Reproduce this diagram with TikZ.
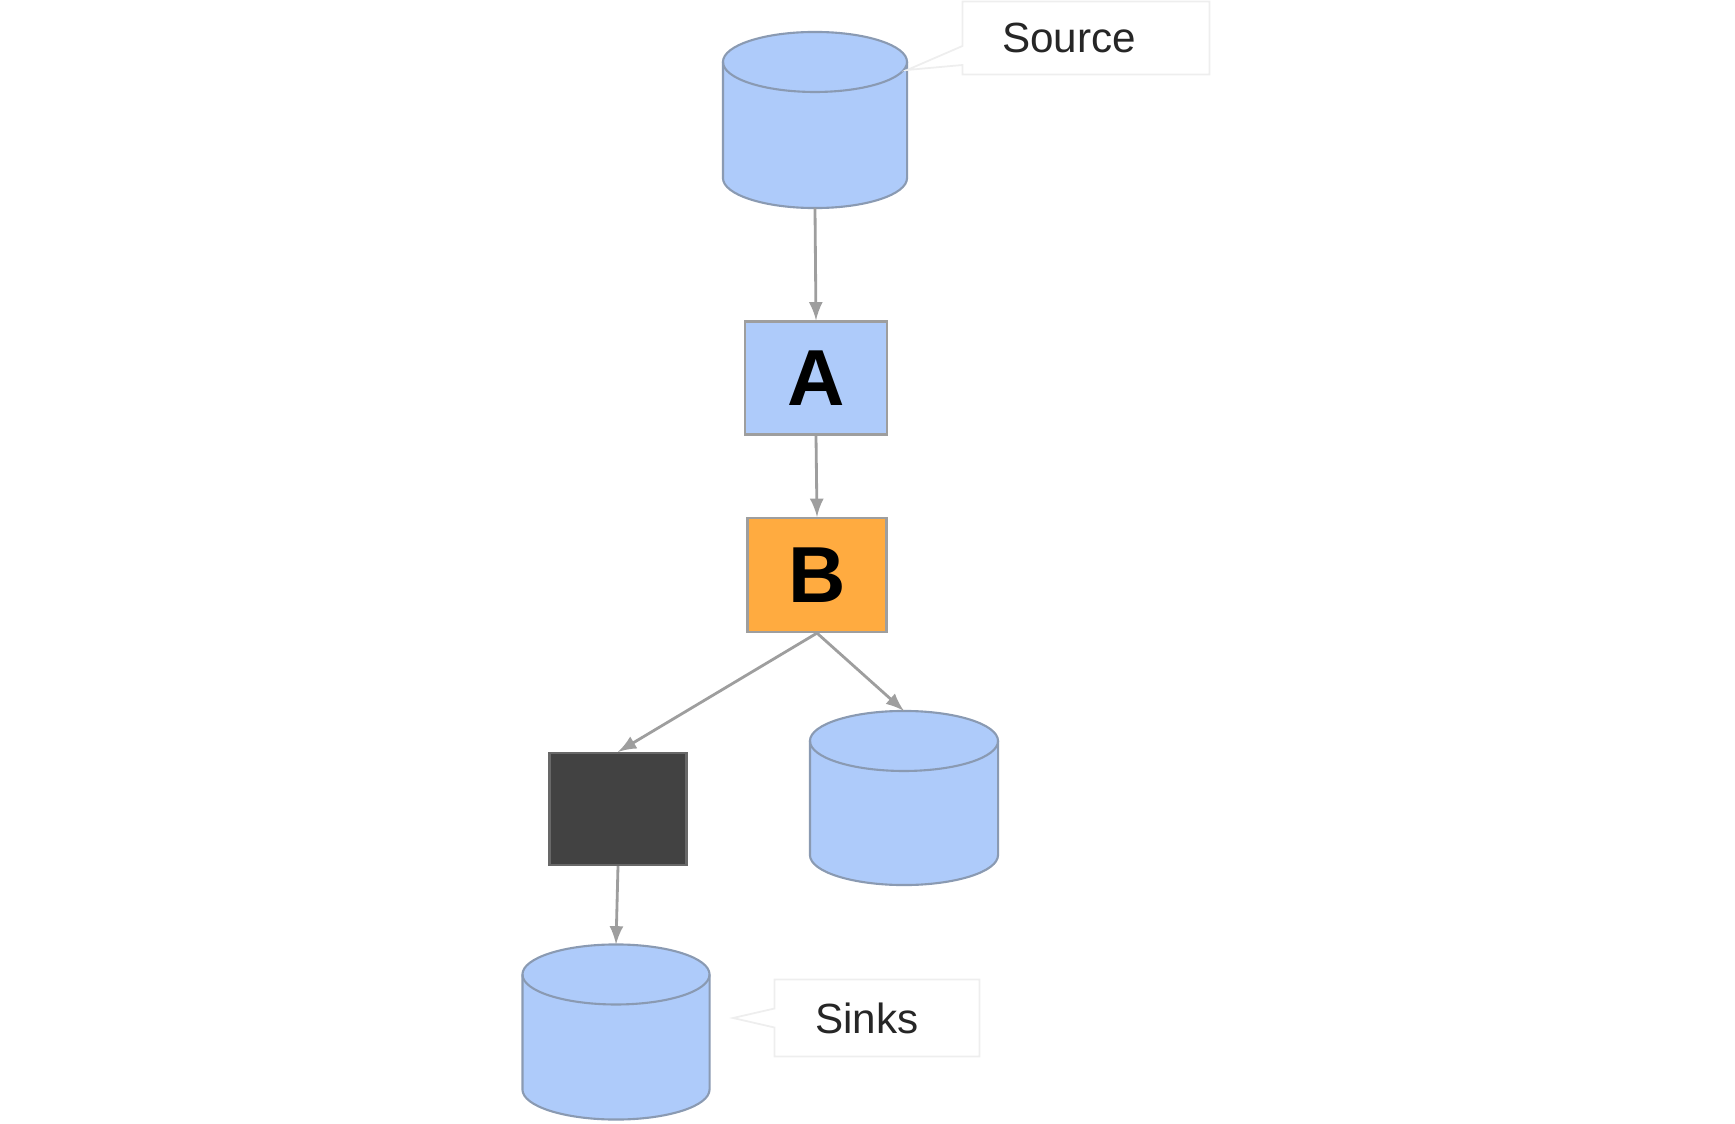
\documentclass[tikz,border=0pt]{standalone}
\usepackage{fontspec}
\setmainfont{Liberation Sans}
\usetikzlibrary{shapes.callouts}
\definecolor{dbblue}{HTML}{AECBFA}
\definecolor{dbline}{HTML}{8A9AB2}
\definecolor{opamber}{HTML}{FFAB40}
\definecolor{opdark}{HTML}{424242}
\definecolor{flowgray}{HTML}{9E9E9E}
\definecolor{notegray}{HTML}{EEEEEE}
\tikzset{
  store/.style={rectangle,inner sep=0pt,outer sep=0pt},
  opbox/.style={rectangle,draw=flowgray,line width=0.6pt,font=\fontsize{22.6}{24}\selectfont\bfseries},
  note/.style={rectangle callout,draw=notegray,line width=0.5pt,fill=white,
    font=\fontsize{12}{14}\selectfont,text=black!85,callout pointer width=0.19cm},
  flow/.style={->,draw=flowgray,line width=0.8pt}
}
% cylinder drawn on the box of node #1, x radius #2
\newcommand\drawstore[2]{
  \draw[draw=dbline,fill=dbblue,line width=0.6pt]
    ([yshift=-0.3cm]#1.north west) -- ([yshift=0.3cm]#1.south west)
    arc (180:360:#2 and 0.3cm) -- ([yshift=-0.3cm]#1.north east)
    arc (0:180:#2 and 0.3cm) -- cycle;
  \draw[draw=dbline,line width=0.6pt] ([yshift=-0.3cm]#1.north west) arc (180:360:#2 and 0.3cm);
}
\begin{document}
\begin{tikzpicture}[x=0.01cm,y=0.01cm,>={latex[scale=1.3]}]
\useasboundingbox (0,0) rectangle (1735,-1124);
\node[store,minimum width=1.84cm,minimum height=1.76cm] (src) at (815,-120) {};
\node[opbox,fill=dbblue,minimum width=1.42cm,minimum height=1.13cm] (a) at (816,-378) {A};
\node[opbox,fill=opamber,minimum width=1.39cm,minimum height=1.14cm] (b) at (817,-575) {B};
\node[opbox,fill=opdark,draw=opdark!80,minimum width=1.37cm,minimum height=1.12cm] (blk) at (618,-809) {};
\node[store,minimum width=1.88cm,minimum height=1.74cm] (out) at (904,-798) {};
\node[store,minimum width=1.87cm,minimum height=1.75cm] (snk) at (616,-1032) {};
\drawstore{src}{0.92cm}
\drawstore{out}{0.94cm}
\drawstore{snk}{0.935cm}

\node[note,minimum width=2.47cm,minimum height=0.73cm,callout absolute pointer={(907,-70)}] (srcnote) at (1086,-38) {Source\hspace{0.34cm}\mbox{}};
\node[note,minimum width=2.05cm,minimum height=0.77cm,callout absolute pointer={(733,-1018)}] (snknote) at (877,-1018) {Sinks\hspace{0.2cm}\mbox{}};

\draw[flow] (src.south) -- (a.north);
\draw[flow] (a.south) -- (b.north);
\draw[flow] (b.south) -- (blk.north);
\draw[flow] (b.south) -- (out.north);
\draw[flow] (blk.south) -- (snk.north);
\end{tikzpicture}
\end{document}
